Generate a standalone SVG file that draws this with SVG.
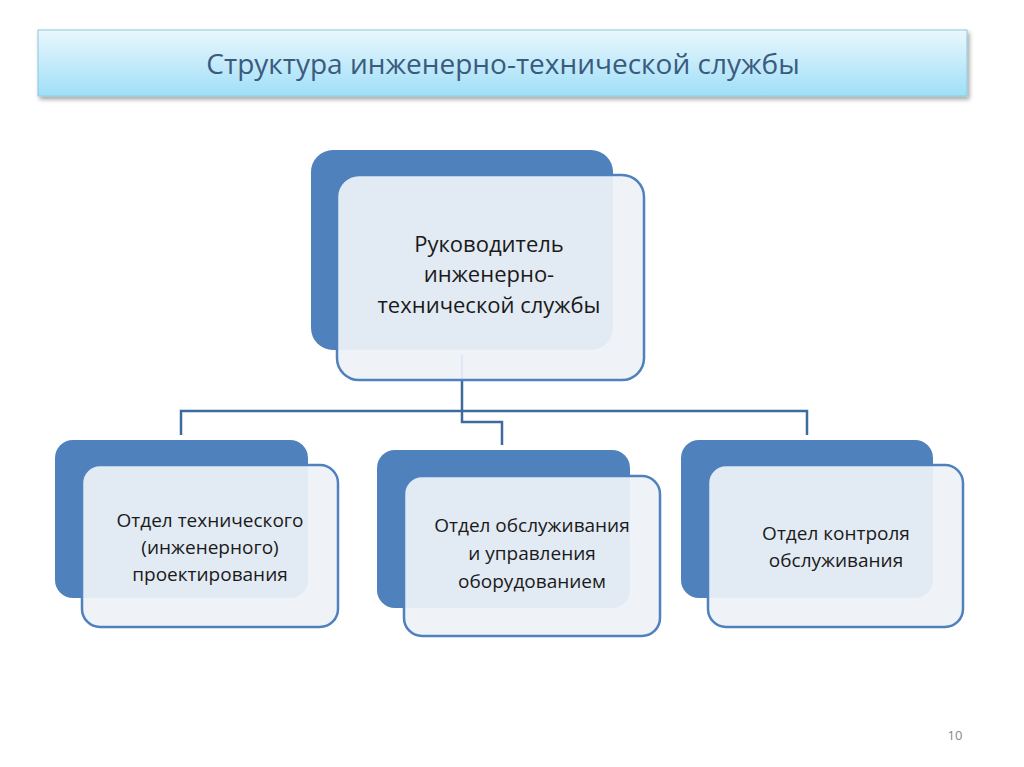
<svg xmlns="http://www.w3.org/2000/svg" width="1024" height="767" viewBox="0 0 1024 767">
<defs>
<linearGradient id="tg" x1="0" y1="0" x2="0" y2="1"><stop offset="0" stop-color="#eaf7fd"/><stop offset="1" stop-color="#9fdff8"/></linearGradient>
<filter id="sh" x="-5%" y="-20%" width="110%" height="150%"><feDropShadow dx="2" dy="3" stdDeviation="2" flood-color="#000" flood-opacity="0.35"/></filter>
<style>
.bk{fill:#4f81bd}
.fr{fill:#eef2f8;fill-opacity:0.93;stroke:#4f81bd;stroke-width:2.5}
.ln{fill:none;stroke:#3f6b9c;stroke-width:2.5}
text{font-family:"Open Sans","Liberation Sans",sans-serif;fill:#1a1a1a;text-anchor:middle}
.t{font-size:19px}
</style>
</defs>
<rect width="1024" height="767" fill="#fff"/>
<g id="title"><rect x="38" y="30" width="929" height="66" fill="url(#tg)" stroke="#8cc8de" stroke-width="1" filter="url(#sh)"/>
<text x="503" y="74" font-size="28" style="fill:#3b5b7e">Структура инженерно-технической службы</text></g>
<g id="connectors">
<path class="ln" d="M462 355 V422 H502 V445"/>
<path class="ln" d="M181 435 V411 H807 V435"/>
</g>
<g id="head"><rect class="bk" x="311" y="150" width="302" height="200" rx="22"/><rect class="fr" x="337" y="175" width="307" height="205" rx="22"/>
<text x="489" y="252" font-size="22">Руководитель</text><text x="489" y="282" font-size="22">инженерно-</text><text x="489" y="313" font-size="22">технической службы</text></g>
<g id="n1"><rect class="bk" x="55" y="440" width="253" height="158" rx="18"/><rect class="fr" x="82" y="465" width="256" height="162" rx="18"/>
<text class="t" x="210" y="527">Отдел технического</text><text class="t" x="210" y="554">(инженерного)</text><text class="t" x="210" y="581">проектирования</text></g>
<g id="n2"><rect class="bk" x="377" y="450" width="253" height="158" rx="18"/><rect class="fr" x="404" y="476" width="256" height="160" rx="18"/>
<text class="t" x="532" y="532">Отдел обслуживания</text><text class="t" x="532" y="560">и управления</text><text class="t" x="532" y="588">оборудованием</text></g>
<g id="n3"><rect class="bk" x="681" y="440" width="252" height="158" rx="18"/><rect class="fr" x="708" y="465" width="255" height="162" rx="18"/>
<text class="t" x="836" y="540">Отдел контроля</text><text class="t" x="836" y="567">обслуживания</text></g>
<text x="955" y="740" font-size="13" style="fill:#888">10</text>
</svg>
